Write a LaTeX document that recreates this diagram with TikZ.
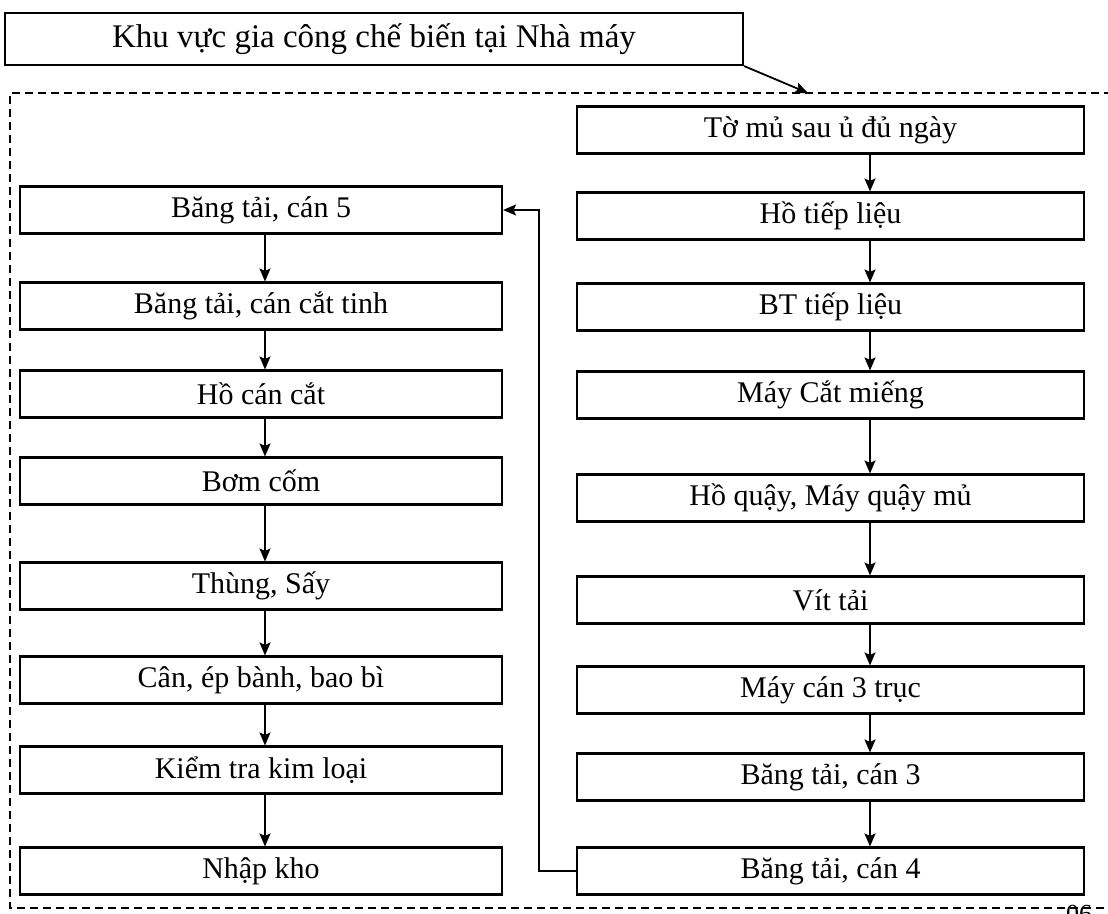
\documentclass[tikz,border=0pt]{standalone}
\usepackage{fontspec}
\setmainfont{Liberation Serif}
\usetikzlibrary{arrows.meta}
\begin{document}
\begin{tikzpicture}[x=1pt,y=-1pt,
  stagebox/.style={draw, line width=2.1pt, inner sep=0pt, minimum height=47pt,
    font=\fontsize{30}{34}\selectfont},
  leftbox/.style={stagebox, minimum width=482pt},
  rightbox/.style={stagebox, minimum width=507pt},
  arr/.style={line width=1.8pt, -{Stealth[length=13pt,width=11pt,inset=2.5pt]}},
  zone/.style={draw, line width=1.6pt, dash pattern=on 8pt off 5pt}]
\useasboundingbox (0,0) rectangle (1108,913);
\begin{scope}
\clip (0,0) rectangle (1108,913);
\fill[white] (0,0) rectangle (1108,913);

% processing area (dashed frame, open to the right)
\draw[zone] (1125,93) -- (10,93) -- (10,908) -- (1125,908);

% heading
\node[draw, line width=2.1pt, minimum width=738pt, minimum height=52pt, inner sep=0pt,
  font=\fontsize{33}{38}\selectfont] (head) at (374,39) {Khu vực gia công chế biến tại Nhà máy};
\coordinate (entry) at (808,93);
\draw[arr] (head.south east) -- (entry);

% right column
\node[rightbox] (r1) at (830.5,130) {Tờ mủ sau ủ đủ ngày};
\node[rightbox] (r2) at (830.5,216) {Hồ tiếp liệu};
\node[rightbox] (r3) at (830.5,307) {BT tiếp liệu};
\node[rightbox] (r4) at (830.5,395) {Máy Cắt miếng};
\node[rightbox] (r5) at (830.5,498) {Hồ quậy, Máy quậy mủ};
\node[rightbox] (r6) at (830.5,600) {Vít tải};
\node[rightbox] (r7) at (830.5,690) {Máy cán 3 trục};
\node[rightbox] (r8) at (830.5,777) {Băng tải, cán 3};
\node[rightbox] (r9) at (830.5,871) {Băng tải, cán 4};

% left column
\node[leftbox] (l1) at (261,210) {Băng tải, cán 5};
\node[leftbox] (l2) at (261,306) {Băng tải, cán cắt tinh};
\node[leftbox] (l3) at (261,394) {Hồ cán cắt};
\node[leftbox] (l4) at (261,481) {Bơm cốm};
\node[leftbox] (l5) at (261,586) {Thùng, Sấy};
\node[leftbox] (l6) at (261,680) {Cân, ép bành, bao bì};
\node[leftbox] (l7) at (261,770) {Kiểm tra kim loại};
\node[leftbox] (l8) at (261,871) {Nhập kho};

% flow arrows
\coordinate (rx) at (870,0);
\coordinate (lx) at (265,0);
\foreach \a/\b in {r1/r2,r2/r3,r3/r4,r4/r5,r5/r6,r6/r7,r7/r8,r8/r9}
  \draw[arr] (\a.south -| rx) -- (\b.north -| rx);
\foreach \a/\b in {l1/l2,l2/l3,l3/l4,l4/l5,l5/l6,l6/l7,l7/l8}
  \draw[arr] (\a.south -| lx) -- (\b.north -| lx);

% return line from the right column to the left column
\coordinate (fb) at (539,0);
\draw[arr] (r9.west) -| (fb |- l1.east) -- (l1.east);

% page number fragment
\node[anchor=base west, inner sep=0pt, font=\fontsize{26}{30}\selectfont] (pg) at (1066,922) {06};
\end{scope}
\end{tikzpicture}
\end{document}
